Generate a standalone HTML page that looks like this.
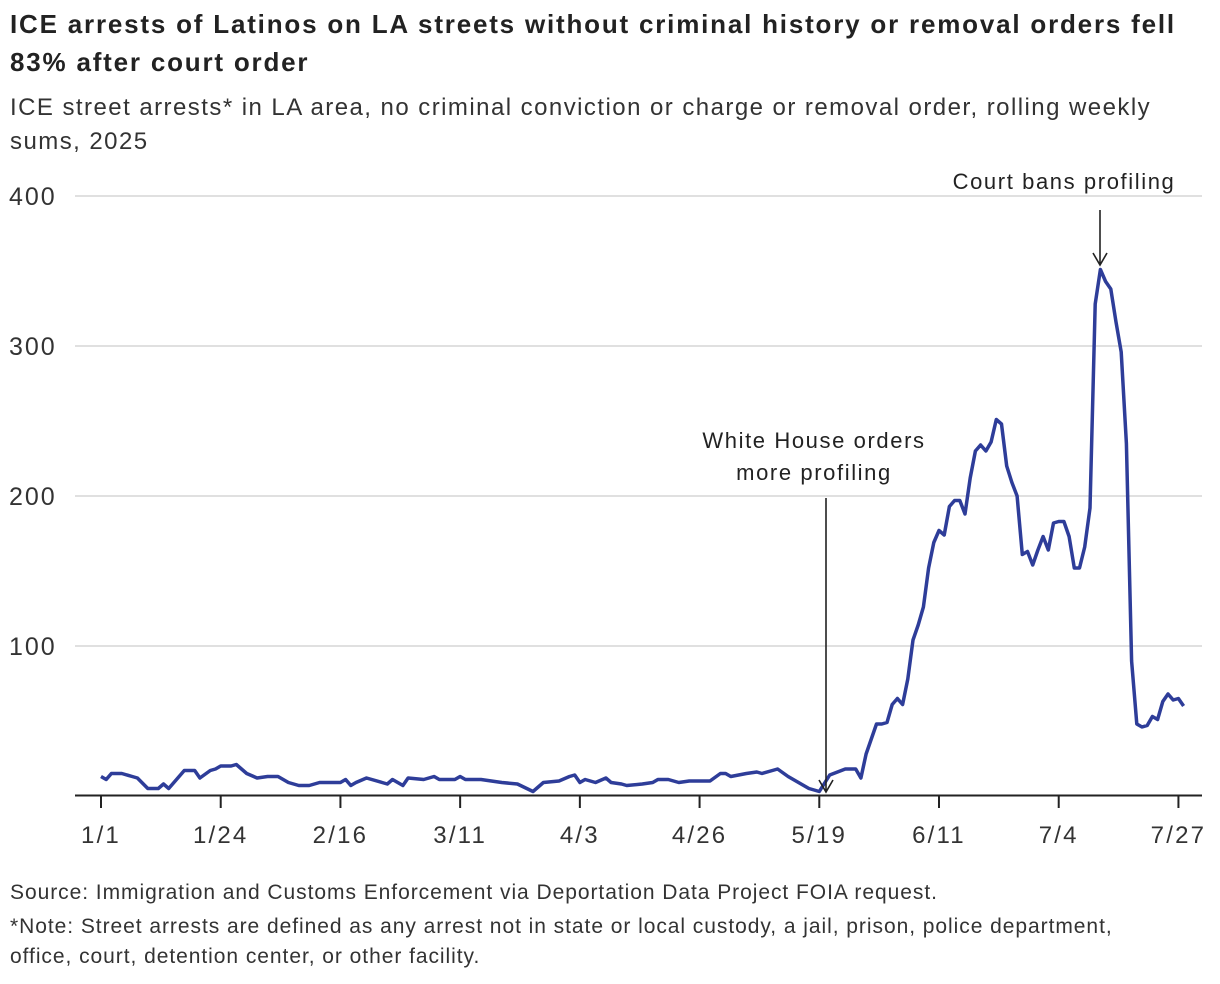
<!DOCTYPE html>
<html><head><meta charset="utf-8"><style>
body{margin:0;background:#fff;font-family:"Liberation Sans",sans-serif;color:#222}
.t{position:absolute;left:10px;width:1210px;font-weight:bold;font-size:26px;line-height:38px;top:5px;letter-spacing:1.8px;white-space:nowrap}
.s{position:absolute;left:10px;width:1210px;font-size:24px;line-height:34px;top:91px;color:#333;letter-spacing:1.45px;white-space:nowrap}
.f{position:absolute;left:10px;font-size:21px;line-height:30px;color:#333;width:1210px;letter-spacing:0.95px;white-space:nowrap}
</style></head><body>
<div class="t">ICE arrests of Latinos on LA streets without criminal history or removal orders fell<br>83% after court order</div>
<div class="s">ICE street arrests* in LA area, no criminal conviction or charge or removal order, rolling weekly<br>sums, 2025</div>
<svg width="1220" height="984" style="position:absolute;left:0;top:0">
<g id="grid"></g><g id="xax"></g><path id="line" fill="none" stroke="#2e3d99" stroke-width="3.5" stroke-linejoin="round"/>
<g id="ann" font-size="22" fill="#222" font-family="Liberation Sans, sans-serif" letter-spacing="1.6"></g>
</svg>
<div class="f" style="top:878px">Source: Immigration and Customs Enforcement via Deportation Data Project FOIA request.</div>
<div class="f" style="top:912px">*Note: Street arrests are defined as any arrest not in state or local custody, a jail, prison, police department,<br>office, court, detention center, or other facility.</div>
<script>
const days=[0,1,2,4,6,7,9,11,12,13,16,18,19,21,22,23,25,26,28,30,32,34,36,38,40,42,44,46,47,48,49,51,54,55,56,58,59,62,64,65,68,69,70,73,75,77,80,83,85,88,90,91,92,93,95,97,98,100,101,104,106,107,109,111,113,117,119,120,121,124,126,127,129,130,132,134,136,138,140,143,145,146,147,149,150,151,152,153,154,155,156,157,158,159,160,161,162,163,164,165,166,167,168,169,170,171,172,173,174,175,176,177,178,179,180,181,182,183,184,185,186,187,188,189,190,191,192,193,194,195,196,197,198,199,200,201,202,203,204,205,206,207,208];
const values=[13,11,15,15,13,12,5,5,8,5,17,17,12,17,18,20,20,21,15,12,13,13,9,7,7,9,9,9,11,7,9,12,9,8,11,7,12,11,13,11,11,13,11,11,10,9,8,3,9,10,13,14,9,11,9,12,9,8,7,8,9,11,11,9,10,10,15,15,13,15,16,15,17,18,13,9,5,3,14,18,18,12,28,48,48,49,61,65,61,78,104,114,126,152,169,177,174,193,197,197,188,212,230,234,230,236,251,248,220,209,200,161,163,154,164,173,164,182,183,183,173,152,152,166,192,328,351,343,338,316,296,235,90,48,46,47,53,51,63,68,64,65,60];
const yTicks=[100,200,300,400];
const xTickDays=[0,23,46,69,92,115,138,161,184,207];
const xTickLabels=["1/1","1/24","2/16","3/11","4/3","4/26","5/19","6/11","7/4","7/27"];
const NS="http://www.w3.org/2000/svg";
const X=d=>101+d*5.205, Y=v=>796-v*1.5;
const g=document.getElementById('grid');
yTicks.forEach(v=>{
 const l=document.createElementNS(NS,'line');
 
 
 l.setAttribute('x1',75);l.setAttribute('x2',1202);l.setAttribute('y1',Y(v));l.setAttribute('y2',Y(v));l.setAttribute('stroke','#d6d6d6');l.setAttribute('stroke-width',1.5);g.appendChild(l);
 const t=document.createElementNS(NS,'text');
 
 
 t.setAttribute('x',9);t.setAttribute('y',Y(v)+9);t.setAttribute('font-size',25);t.setAttribute('letter-spacing',2);t.setAttribute('fill','#333');t.textContent=v;g.appendChild(t);
});
const xa=document.getElementById('xax');
const ax=document.createElementNS(NS,'line');


ax.setAttribute('x1',75);ax.setAttribute('x2',1202);ax.setAttribute('y1',795.5);ax.setAttribute('y2',795.5);ax.setAttribute('stroke','#222');ax.setAttribute('stroke-width',2);xa.appendChild(ax);
xTickDays.forEach((d,i)=>{
 const l=document.createElementNS(NS,'line');
 
 
 l.setAttribute('x1',X(d));l.setAttribute('x2',X(d));l.setAttribute('y1',796);l.setAttribute('y2',808);l.setAttribute('stroke','#222');l.setAttribute('stroke-width',2);xa.appendChild(l);
 const t=document.createElementNS(NS,'text');
 
 
 t.setAttribute('x',X(d));t.setAttribute('y',843);t.setAttribute('text-anchor','middle');t.setAttribute('font-size',24);t.setAttribute('letter-spacing',2.2);t.setAttribute('fill','#333');t.textContent=xTickLabels[i];xa.appendChild(t);
});
document.getElementById('line').setAttribute('d',days.map((d,i)=>(i?'L':'M')+X(d).toFixed(1)+' '+Y(values[i]).toFixed(1)).join(''));
document.getElementById('ann').innerHTML=
'<text x="1064" y="189" text-anchor="middle">Court bans profiling</text>'+
'<path d="M1100 210V265M1093 253L1100 265L1107 253" stroke="#222" stroke-width="1.6" fill="none"/>'+
'<text x="814" y="448" text-anchor="middle">White House orders</text>'+
'<text x="814" y="480" text-anchor="middle">more profiling</text>'+
'<path d="M826 498V792M819 780L826 792L833 780" stroke="#222" stroke-width="1.6" fill="none"/>';
</script>
</body></html>
